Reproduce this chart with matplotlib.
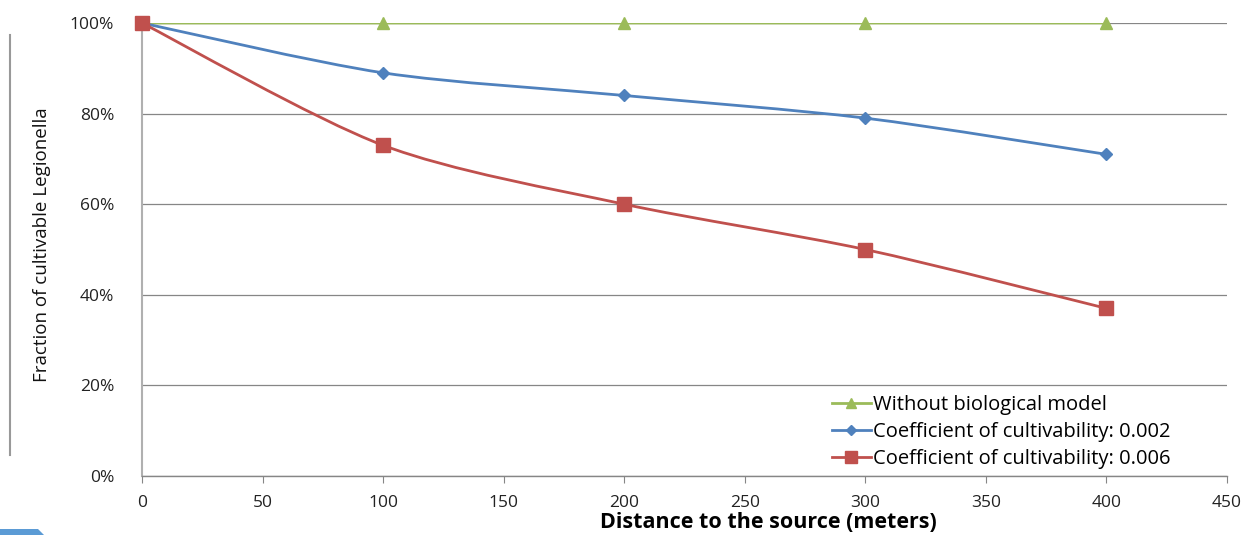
import numpy as np
import matplotlib
matplotlib.use("Agg")
import matplotlib.pyplot as plt
from matplotlib.path import Path
from matplotlib.patches import PathPatch, Polygon
from matplotlib.lines import Line2D
from matplotlib.ticker import FuncFormatter

distance = [0, 100, 200, 300, 400]
no_bio = [100, 100, 100, 100, 100]
coef_002 = [100, 89, 84, 79, 71]
coef_006 = [100, 73, 60, 50, 37]
labels = ["Without biological model",
          "Coefficient of cultivability: 0.002",
          "Coefficient of cultivability: 0.006"]
x_ticks = [0, 50, 100, 150, 200, 250, 300, 350, 400, 450]
y_ticks = [0, 20, 40, 60, 80, 100]

GREEN, BLUE, RED = "#9BBB59", "#4F81BD", "#C0504D"
plt.rcParams["font.family"] = ["Open Sans", "DejaVu Sans"]

fig = plt.figure(figsize=(12.47, 5.35), dpi=100)
ax = fig.add_axes([142 / 1247, 1 - 476 / 535, (1227 - 142) / 1247, (476 - 23) / 535])


def smooth_path(xs, ys, tension=1 / 7):
    """Cubic Bezier path through the points (Catmull-Rom style control points)."""
    pts = np.column_stack([xs, ys]).astype(float)
    verts = [pts[0]]
    codes = [Path.MOVETO]
    n = len(pts)
    for i in range(n - 1):
        p0 = pts[i - 1] if i > 0 else pts[i]
        p1, p2 = pts[i], pts[i + 1]
        p3 = pts[i + 2] if i + 2 < n else pts[i + 1]
        c1 = p1 + (p2 - p0) * tension
        c2 = p2 - (p3 - p1) * tension
        verts += [c1, c2, p2]
        codes += [Path.CURVE4] * 3
    return Path(verts, codes)


series = [
    (no_bio, GREEN, "^", 9),
    (coef_002, BLUE, "D", 6.5),
    (coef_006, RED, "s", 9.5),
]
handles = []
for (vals, col, mk, ms), lab in zip(series, labels):
    ax.add_patch(PathPatch(smooth_path(distance, vals), facecolor="none",
                           edgecolor=col, lw=2.0, zorder=3, capstyle="round"))
    ax.plot(distance, vals, linestyle="none", marker=mk, ms=ms, color=col,
            markeredgecolor=col, zorder=4, clip_on=False)
    handles.append(Line2D([], [], color=col, lw=2.0, marker=mk, ms=ms * 0.85,
                          markeredgecolor=col))

ax.set_xlim(0, 450)
ax.set_ylim(0, 100)
ax.set_xticks(x_ticks)
ax.set_yticks(y_ticks)
ax.yaxis.set_major_formatter(FuncFormatter(lambda v, p: f"{v:.0f}%"))
ax.grid(axis="y", color="#868686", lw=0.9, zorder=1)
for s in ["top", "right"]:
    ax.spines[s].set_visible(False)
ax.spines["left"].set_color("#B0B0B0")
ax.spines["left"].set_linewidth(1.5)
ax.spines["bottom"].set_color("#868686")
ax.spines["bottom"].set_linewidth(1.0)
ax.tick_params(axis="x", direction="out", length=5, color="#868686",
               labelsize=12.5, pad=9, labelcolor="#222222")
ax.tick_params(axis="y", length=0, labelsize=12.5, pad=20, labelcolor="#222222")

fig.text(768 / 1247, 1 - 523 / 535, "Distance to the source (meters)",
         ha="center", va="center", fontsize=15.5, fontweight="bold")
fig.text(42 / 1247, 1 - 245 / 535, "Fraction of cultivable Legionella",
         rotation=90, ha="center", va="center", fontsize=13.5, color="#111111",
         family=["Liberation Sans Narrow", "Open Sans", "DejaVu Sans"])

ax.legend(handles, labels, loc="upper left", bbox_to_anchor=(0.627, 0.2015),
          frameon=False, fontsize=14.5, handlelength=1.9, handletextpad=0.1,
          labelspacing=0.36, borderpad=0)

# decorative frame edge on the left and corner tab
fig.add_artist(Line2D([10 / 1247, 10 / 1247], [1 - 35 / 535, 1 - 455 / 535],
                      color="#999999", lw=1.5))
fig.add_artist(Polygon([[0, 0], [0, 6 / 535], [38 / 1247, 6 / 535], [44 / 1247, 0]],
                       closed=True, facecolor="#5B9BD5", edgecolor="none",
                       transform=fig.transFigure))

fig.savefig("out.png", dpi=100)
